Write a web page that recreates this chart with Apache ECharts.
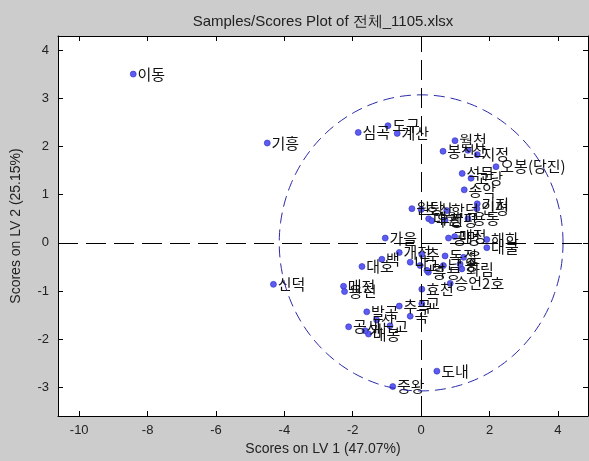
<!DOCTYPE html>
<html>
<head>
<meta charset="utf-8">
<script src="https://cdn.jsdelivr.net/npm/echarts@6/dist/echarts.min.js"></script>
<style>
html,body{margin:0;padding:0;background:#cccccc;}
#c{width:589px;height:461px;}
</style>
</head>
<body>
<div id="c"></div>
<script>
// ---- data ----
const sampleNames = ["이동","기흥","심곡","도구","계산","월천","봉신","산","지정","오봉(당진)",
  "석문","고당","송악","기지","원당","호산","대월","우강","합덕","신평",
  "인평","용동","가을","공명","매정","해화","대불","개전","추","독정",
  "대호","백","나","고","화림","운","남","효천","승언2호","신덕",
  "매전","용전","발곡","산","공세","대봉","가","추곡","곡","교",
  "고","중왕","도내","흥능","송","덕"];
const scoreLV1 = [-8.42,-4.50,-1.84,-0.97,-0.70,0.99,0.64,1.37,1.64,2.19,
  1.20,1.46,1.26,1.64,-0.27,0.00,0.22,0.31,0.75,0.70,
  1.63,1.37,-1.05,0.80,0.98,1.92,1.92,-0.64,0.02,0.70,
  -1.73,-1.15,-0.32,-0.03,1.19,1.24,0.65,0.02,0.85,-4.32,
  -2.27,-2.24,-1.59,-1.30,-2.12,-1.54,-1.64,-0.64,-0.32,0.02,
  -0.91,-0.83,0.46,0.21,1.14,0.17];
const scoreLV2 = [3.50,2.07,2.29,2.43,2.27,2.12,1.90,1.92,1.83,1.58,
  1.44,1.34,1.10,0.81,0.71,0.69,0.50,0.46,0.67,0.47,
  0.71,0.50,0.10,0.10,0.13,0.07,-0.10,-0.20,-0.24,-0.27,
  -0.49,-0.34,-0.40,-0.47,-0.54,-0.30,-0.47,-0.96,-0.84,-0.86,
  -0.90,-1.01,-1.43,-1.60,-1.74,-1.89,-1.82,-1.31,-1.52,-1.26,
  -1.72,-2.98,-2.66,-0.61,-0.44,-0.57];
const xTicks = [-10,-8,-6,-4,-2,0,2,4];
const yTicks = [-3,-2,-1,0,1,2,3,4];
const xMin = -10.62, xMax = 4.88;
const yMin = -3.59, yMax = 4.29;
// confidence ellipse parameters
const ellipseCx = 0, ellipseCy = 0, ellipseRx = 4.15, ellipseRy = 3.07;

const pts = sampleNames.map((n,i)=>({name:n, value:[scoreLV1[i], scoreLV2[i]]}));
const ell = [];
for (let k=0;k<=360;k+=2){
  const t = k*Math.PI/180;
  ell.push([ellipseCx+ellipseRx*Math.cos(t), ellipseCy+ellipseRy*Math.sin(t)]);
}

const font = "'Liberation Sans', Arial, sans-serif";
const kfont = "'Noto Sans CJK KR', sans-serif";
function xa(pos, show){
  return {type:'value', position:pos, min:xMin, max:xMax,
    axisLine:{show:true, onZero:false, lineStyle:{color:'#000', width:1}},
    axisTick:{show:true, inside:true, length:5, customValues:xTicks, lineStyle:{color:'#000'}},
    axisLabel:{show:show, customValues:xTicks, color:'#222', fontSize:13, fontFamily:font, margin:8},
    splitLine:{show:false},
    name: show ? 'Scores on LV 1 (47.07%)' : '', nameLocation:'middle', nameGap:26,
    nameTextStyle:{color:'#222', fontSize:14, fontFamily:font}};
}
function ya(pos, show){
  return {type:'value', position:pos, min:yMin, max:yMax,
    axisLine:{show:true, onZero:false, lineStyle:{color:'#000', width:1}},
    axisTick:{show:true, inside:true, length:5, customValues:yTicks, lineStyle:{color:'#000'}},
    axisLabel:{show:show, customValues:yTicks, color:'#222', fontSize:13, fontFamily:font, margin:9},
    splitLine:{show:false},
    name: show ? 'Scores on LV 2 (25.15%)' : '', nameLocation:'middle', nameGap:35,
    nameTextStyle:{color:'#222', fontSize:14, fontFamily:font}};
}

const chart = echarts.init(document.getElementById('c'), null, {renderer:'canvas'});
chart.setOption({
  backgroundColor:'#cccccc',
  animation:false,
  title:{text:'Samples/Scores Plot of 전체_1105.xlsx', left:318, textAlign:'center', top:9,
    textStyle:{fontSize:15, fontWeight:'normal', color:'#222', fontFamily:font}},
  grid:{left:58, top:36, right:1, bottom:35, show:true, backgroundColor:'#ffffff', borderWidth:0},
  xAxis:[xa('bottom', true), xa('top', false)],
  yAxis:[ya('left', true), ya('right', false)],
  series:[
    {type:'line', data:ell, showSymbol:false, symbol:'none', smooth:false, silent:true,
      lineStyle:{color:'#2a2aa8', width:1, type:[11,6]},
      markLine:{silent:true, symbol:'none', label:{show:false},
        lineStyle:{color:'#000', width:1, type:[20,8]},
        data:[{xAxis:0},{yAxis:0}]}},
    {type:'scatter', data:pts, symbolSize:6,
      itemStyle:{color:'#5c5cf2', borderColor:'#2e2ec0', borderWidth:0.6, opacity:1},
      label:{show:true, position:'right', distance:1, formatter:'{b}',
        color:'#111', fontSize:15, fontFamily:kfont}}
  ]
});
</script>
</body>
</html>
